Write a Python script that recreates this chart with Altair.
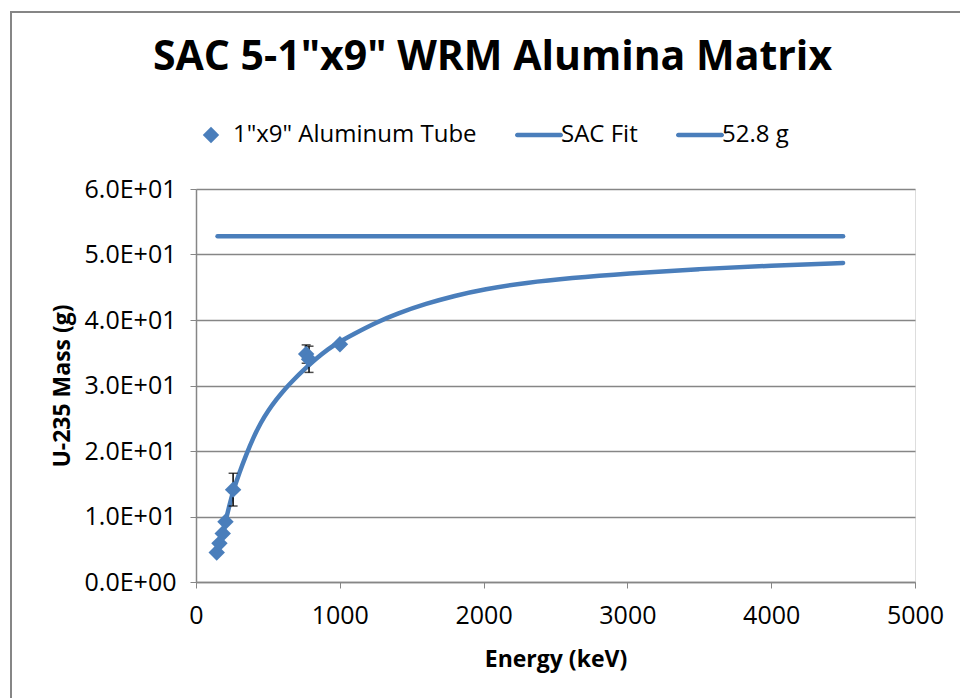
import altair as alt
import pandas as pd

# ---------------- data ----------------
series_names = ['1"x9" Aluminum Tube', 'SAC Fit', '52.8 g']

meas_energy = [144, 163, 186, 205, 258, 766, 786, 1001]
meas_mass = [4.5, 5.9, 7.4, 9.2, 14.1, 34.8, 34.0, 36.3]
meas_err = [0.0, 0.0, 0.0, 0.0, 2.5, 1.4, 2.0, 0.0]

fit_energy = [200, 230, 260, 300, 350, 400, 450, 500, 560, 620, 680, 750, 830,
              920, 1000, 1100, 1250, 1400, 1600, 1800, 2000, 2300, 2600, 3000,
              3500, 4000, 4500]
fit_mass = [8.8, 11.5, 14.0, 16.6, 19.5, 22.1, 24.3, 26.1, 27.9, 29.5, 30.9, 32.4,
            34.0, 35.6, 36.7, 37.9, 39.6, 41.0, 42.5, 43.7, 44.7, 45.7, 46.4, 47.1,
            47.8, 48.3, 48.7]

ref_energy = [150, 4500]
ref_mass = [52.8, 52.8]

y_ticks = [0, 10, 20, 30, 40, 50, 60]
x_ticks = [0, 1000, 2000, 3000, 4000, 5000]

BLUE = "#4A7EBB"
GRID = "#868686"
FONT = "Open Sans"
MSIZE = 270
# legend symbol for the line series: a long thick bar with rounded ends
BAR = ("M-2.646,-0.274 L2.646,-0.274 A0.274,0.274 0 0 1 2.646,0.274 "
       "L-2.646,0.274 A0.274,0.274 0 0 1 -2.646,-0.274 Z")

meas = pd.DataFrame({
    "energy": meas_energy,
    "mass": meas_mass,
    "lo": [m - e for m, e in zip(meas_mass, meas_err)],
    "hi": [m + e for m, e in zip(meas_mass, meas_err)],
    "series": series_names[0],
})
err = meas[[e > 0 for e in meas_err]]
fit = pd.DataFrame({"energy": fit_energy, "mass": fit_mass, "series": series_names[1]})
ref = pd.DataFrame({"energy": ref_energy, "mass": ref_mass, "series": series_names[2]})

x_scale = alt.Scale(domain=[0, 5000], nice=False)
y_scale = alt.Scale(domain=[0, 60], nice=False)

x_axis = alt.Axis(values=x_ticks, title="Energy (keV)", grid=False, format="d",
                  labelFontSize=25, labelFont=FONT, labelColor="black", titleFont=FONT,
                  titleFontSize=23, titleFontWeight="bold", titleColor="black",
                  domainColor=GRID, tickColor=GRID, tickSize=6, labelPadding=15,
                  titlePadding=20, domainWidth=1.5, labelFlush=False)
y_axis = alt.Axis(values=y_ticks, title="U-235 Mass (g)", grid=True, gridColor=GRID,
                  gridWidth=1.3, labelFontSize=25, labelFont=FONT, labelColor="black",
                  titleFont=FONT, titleFontSize=23, titleFontWeight="bold",
                  titleColor="black", domainColor=GRID, tickColor=GRID, tickSize=6,
                  labelPadding=14, titlePadding=10, domainWidth=1.5,
                  labelExpr="datum.value == 0 ? '0.0E+00' : format(datum.value/10, '.1f') + 'E+01'")

X = alt.X("energy:Q", scale=x_scale, axis=x_axis)
Y = alt.Y("mass:Q", scale=y_scale, axis=y_axis)

border = alt.Chart(pd.DataFrame({"a": [0]})).mark_rect(
    fill=None, stroke=GRID, strokeWidth=2
).encode(x=alt.value(-185), x2=alt.value(900), y=alt.value(-177), y2=alt.value(700))

ref_line = alt.Chart(ref).mark_line(color=BLUE, strokeWidth=4.5, strokeCap="round").encode(x=X, y=Y)
fit_line = alt.Chart(fit).mark_line(color=BLUE, strokeWidth=4.5, strokeCap="round",
                                    interpolate="basis").encode(x=X, y=Y)

err_rule = alt.Chart(err).mark_rule(color="black", strokeWidth=1.5).encode(
    x=X, y=alt.Y("lo:Q", scale=y_scale), y2="hi:Q")
cap_lo = alt.Chart(err).mark_tick(color="black", orient="horizontal", size=9, thickness=1.5).encode(
    x=X, y=alt.Y("lo:Q", scale=y_scale))
cap_hi = alt.Chart(err).mark_tick(color="black", orient="horizontal", size=9, thickness=1.5).encode(
    x=X, y=alt.Y("hi:Q", scale=y_scale))

legend = alt.Legend(
    title=None, orient="none", direction="horizontal", columns=3,
    legendX=3, legendY=-66, labelFont=FONT, labelFontSize=24, labelColor="black",
    labelOffset=10, columnPadding=38, padding=0, labelLimit=400,
    symbolFillColor=BLUE, symbolStrokeWidth=0, symbolOpacity=1, symbolSize=MSIZE,
)

points = alt.Chart(meas).mark_point(filled=True, opacity=1, color=BLUE, size=MSIZE).encode(
    x=X, y=Y,
    shape=alt.Shape("series:N", scale=alt.Scale(domain=series_names,
                                                range=["diamond", BAR, BAR]),
                    legend=legend),
)

chart = alt.layer(border, ref_line, fit_line, err_rule, cap_lo, cap_hi, points).properties(
    width=719, height=393,
    title=alt.TitleParams('SAC 5-1"x9" WRM Alumina Matrix', font=FONT, fontSize=41,
                          fontWeight="bold", color="black", anchor="middle",
                          dx=-63, offset=-68),
    autosize=alt.AutoSizeParams(type="none"),
    padding={"left": 196, "top": 189, "right": 45, "bottom": 116},
).configure_view(stroke=None).configure(background="white")

chart.save("out.html", embed_options={"renderer": "svg", "actions": False})
